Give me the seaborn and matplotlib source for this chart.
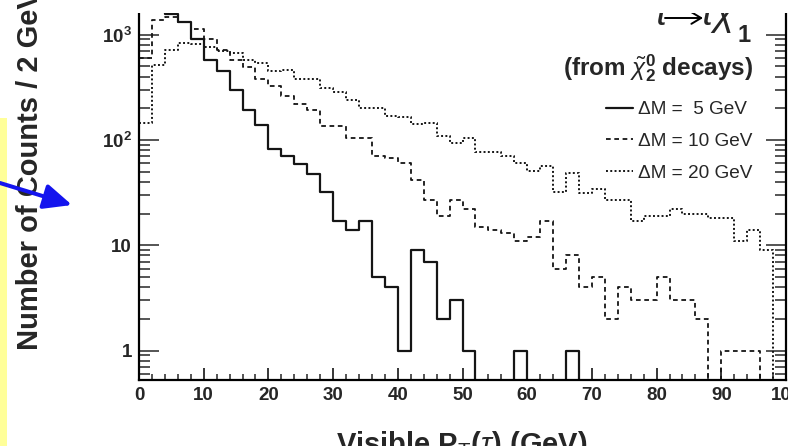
import numpy as np
import pandas as pd
import matplotlib
matplotlib.use("Agg")
import matplotlib.pyplot as plt
import seaborn as sns
from matplotlib.patches import Rectangle, FancyArrowPatch
from matplotlib.ticker import MultipleLocator, LogLocator, NullFormatter

# === Data: counts per 2 GeV bin (0-100 GeV) ===
bin_edges = list(range(0, 102, 2))
counts_dm5 = [2200, 2600, 1560, 1330, 910, 580, 450, 300, 193, 139,
              82, 71, 59, 47, 32, 17, 14, 17, 5, 4,
              1, 9, 7, 2, 3, 1, 0, 0, 0, 1,
              0, 0, 0, 1, 0, 0, 0, 0, 0, 0,
              0, 0, 0, 0, 0, 0, 0, 0, 0, 0]
counts_dm10 = [600, 1385, 1480, 1320, 1130, 910, 720, 570, 490, 380,
               322, 259, 219, 193, 136, 136, 104, 104, 70, 68,
               60, 42, 27, 19, 27, 22, 15, 14, 13, 11,
               12, 17, 6, 8, 4, 5, 2, 4, 3, 3,
               5, 3, 3, 2, 0, 1, 1, 1, 0, 0]
counts_dm20 = [145, 517, 720, 830, 820, 755, 692, 668, 569, 537,
               454, 464, 381, 381, 311, 288, 240, 203, 203, 167,
               165, 142, 146, 108, 94, 105, 76, 76, 71, 60,
               51, 57, 32, 49, 31, 34, 27, 27, 17, 19,
               19, 22, 20, 20, 18, 18, 11, 14, 9, 0]
series_labels = ["\u0394M =  5 GeV", "\u0394M = 10 GeV", "\u0394M = 20 GeV"]

df = pd.DataFrame({
    "pt": [e + 1 for e in bin_edges[:-1]],
    "dm5": counts_dm5,
    "dm10": counts_dm10,
    "dm20": counts_dm20,
})

# === Style ===
sns.set_style("ticks")
plt.rcParams["font.family"] = ["Liberation Sans", "DejaVu Sans"]
plt.rcParams["mathtext.fontset"] = "custom"
plt.rcParams["mathtext.rm"] = "Liberation Sans"
plt.rcParams["mathtext.it"] = "Liberation Sans:italic"
plt.rcParams["mathtext.bf"] = "Liberation Sans:bold"

W, H = 788, 446
fig = plt.figure(figsize=(W / 100, H / 100), dpi=100)
ax = fig.add_axes([139 / W, 66 / H, 647 / W, 410 / H])

# === Plot histograms ===
line_styles = [("dm5", "-", 1.6), ("dm10", (0, (2.6, 2)), 1.3), ("dm20", (0, (1, 1.2)), 1.4)]
for (col, ls, lw), lab in zip(line_styles, series_labels):
    sns.histplot(data=df, x="pt", weights=col, bins=bin_edges, element="step",
                 fill=False, color="#151515", linestyle=ls, linewidth=lw,
                 label=lab, ax=ax)

ax.set_yscale("log")
ax.set_xlim(0, 100)
ax.set_ylim(0.525, 4110)
ax.set_xlabel("")
ax.set_ylabel("")

# === Axes / ticks ===
ax.set_xticks(np.arange(0, 101, 10), labels=[str(v) for v in range(0, 101, 10)],
              fontweight="bold")
ax.xaxis.set_minor_locator(MultipleLocator(2))
ax.set_yticks([1, 10, 100, 1000],
              labels=["1", "10", r"$\mathbf{10^{2}}$", r"$\mathbf{10^{3}}$"],
              fontweight="bold")
ax.yaxis.set_minor_locator(LogLocator(base=10, subs=np.arange(2, 10) * 1.0, numticks=20))
ax.yaxis.set_minor_formatter(NullFormatter())
ax.tick_params(axis="x", which="major", direction="in", length=8.6, width=1.1,
               top=False, labelsize=13.5, pad=5, color="black")
ax.tick_params(axis="x", which="minor", direction="in", length=4.3, width=1.1, top=False)
ax.tick_params(axis="y", which="major", direction="in", length=14.4, width=1.1,
               right=True, labelsize=13.5, pad=5)
ax.tick_params(axis="y", which="minor", direction="in", length=8, width=1.1, right=True)
for sp in ax.spines.values():
    sp.set_linewidth(1.6)
    sp.set_color("black")

# === Legend and labels ===
ax.legend(loc="upper right", bbox_to_anchor=(752 / W, 1 - 101 / H),
          bbox_transform=fig.transFigure, frameon=False, fontsize=13.7,
          handlelength=1.42, handletextpad=0.26, labelspacing=0.76,
          borderpad=0, borderaxespad=0)

# process label (top part hidden by the white band, as in the reference)
fig.text(668 / W, 1 - 25 / H, "\u03c4", ha="right", va="baseline",
         fontsize=28, style="italic")
fig.add_artist(FancyArrowPatch(posA=(665 / W, 1 - 18 / H), posB=(703 / W, 1 - 18 / H),
                               transform=fig.transFigure, shrinkA=0, shrinkB=0,
                               arrowstyle="->,head_length=0.5,head_width=0.3",
                               mutation_scale=14, color="black", lw=1.4))
fig.text(700 / W, 1 - 25 / H, "\u03c4\u03c7", ha="left", va="baseline",
         fontsize=28, style="italic")
fig.text(744 / W, 1 - 42 / H, "1", ha="center", va="baseline",
         fontsize=17, fontweight="bold")
fig.text(753 / W, 1 - 68 / H, r"(from $\tilde{\chi}_{\mathbf{2}}^{\mathbf{0}}$ decays)",
         ha="right", va="center", fontsize=17.5, fontweight="bold")
fig.text(30 / W, 1 - 170 / H, "Number of Counts / 2 GeV", rotation=90,
         ha="center", va="center", fontsize=21, fontweight="bold")
fig.text(462 / W, -7 / H, r"Visible P$_{\mathrm{T}}$($\tau$) (GeV)",
         ha="center", va="baseline", fontsize=21, fontweight="bold")

# white band over the top of the plot area
fig.patches.append(Rectangle((100 / W, 1 - 12.5 / H), 1, 12.5 / H, transform=fig.transFigure,
                             facecolor="white", edgecolor="none", zorder=20))

# === Yellow box and blue arrow on the left ===
fig.patches.append(Rectangle((0, 0), 7 / W, (H - 118) / H, transform=fig.transFigure,
                             facecolor="#FFFF99", edgecolor="none", zorder=5))
fig.add_artist(FancyArrowPatch(posA=(0, 1 - 183 / H), posB=(72 / W, 1 - 205 / H),
                               transform=fig.transFigure, shrinkA=0, shrinkB=0,
                               arrowstyle="-|>,head_length=1.0,head_width=0.45",
                               mutation_scale=17, color="#1414EE", lw=2.9, zorder=10))

fig.savefig("out.png", dpi=100)
plt.close()
